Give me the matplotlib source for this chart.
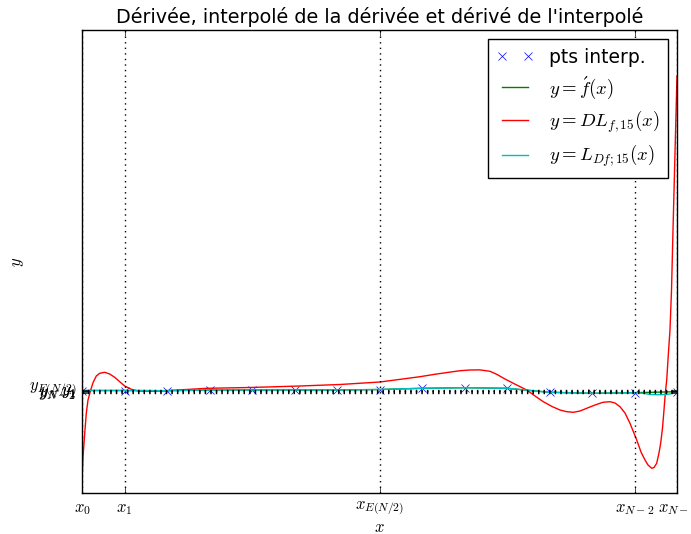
import matplotlib
matplotlib.use('Agg')
import matplotlib.pyplot as plt

plt.style.use('classic')

# noeuds d'interpolation (indices 0..14) et valeurs lues
x_nodes = list(range(15))
y_nodes = [0.0, 0.0, -0.02, 0.05, 0.05, 0.05, 0.05, 0.10, 0.22, 0.28,
           0.22, -0.18, -0.28, -0.22, -0.12]

# f'(x) (quasi confondue avec les points)
x_df = x_nodes
y_df = y_nodes

# L_{Df,15} : petite descente entre x_13 et x_14
x_ldf = list(range(14)) + [13.24, 13.365, 13.52, 13.647, 13.835, 13.95, 14.0]
y_ldf = y_nodes[:14] + [-0.30, -0.40, -0.42, -0.42, -0.35, -0.18, -0.12]

# DL_{f,15}
x_dl = [0.0, 0.024, 0.064, 0.101, 0.141, 0.205, 0.259, 0.336, 0.416, 0.534,
        0.652, 0.769, 0.887, 1.005, 1.160, 1.318, 1.6, 1.976, 2.934, 3.953,
        5.129, 6.071, 7.012, 7.953, 8.3, 8.659, 8.9, 9.129, 9.365, 9.6, 9.758,
        9.953, 10.148, 10.464, 10.659, 10.854, 11.059, 11.247, 11.405, 11.56,
        11.718, 11.875, 12.071, 12.259, 12.424, 12.541, 12.659, 12.776, 12.894,
        13.052, 13.153, 13.247, 13.318, 13.405, 13.459, 13.522, 13.576, 13.616,
        13.659, 13.694, 13.725, 13.758, 13.795, 13.835, 13.871, 13.906, 13.953,
        14.0]
y_dl = [-9.05, -6.62, -4.28, -2.28, -0.95, 0.05, 0.78, 1.45, 1.72, 1.82,
        1.65, 1.32, 0.88, 0.45, 0.12, -0.05, -0.07, -0.02, 0.22, 0.30,
        0.45, 0.60, 0.85, 1.38, 1.62, 1.84, 1.98, 2.05, 2.06, 1.92, 1.62,
        1.15, 0.72, 0.05, -0.55, -1.12, -1.60, -1.95, -2.12, -2.18,
        -2.05, -1.78, -1.45, -1.18, -1.12, -1.25, -1.62, -2.25, -3.28,
        -4.95, -6.15, -6.95, -7.45, -7.78, -7.70, -7.28, -6.25, -5.28,
        -3.75, -1.95, -0.25, 1.05, 3.55, 6.05, 10.05, 16.05, 23.75, 31.45]

# repères affichés
tick_idx = [0, 1, 7, 13, 14]
xtick_labels = [r'$x_0$', r'$x_1$', r'$x_{E(N/2)}$', r'$x_{N-2}$', r'$x_{N-1}$']
ytick_labels = [r'$y_0$', r'$y_1$', r'$y_{E(N/2)}$', r'$y_{N-2}$', r'$y_{N-1}$']

fig = plt.figure(figsize=(6.91, 5.34), dpi=100, facecolor='white')
ax = fig.add_axes([82/691, 1 - 493/534, 595/691, 463/534])

ax.plot(x_nodes, y_nodes, 'bx', markersize=6, label='pts interp.')
ax.plot(x_df, y_df, 'g', label=r"$y=\acute{f}(x)$")
ax.plot(x_dl, y_dl, 'r', label=r'$y=DL_{f,15}(x)$')
ax.plot(x_ldf, y_ldf, 'c', label=r'$y=L_{Df;15}(x)$')

xt = [x_nodes[i] for i in tick_idx]
yt = [y_nodes[i] for i in tick_idx]
for xv in xt:
    ax.axvline(xv, color='k', linestyle=':')
for yv in yt:
    ax.hlines(yv, x_nodes[0], x_nodes[-1], color='k', linestyle=':')

ax.set_xlim(0, 14)
ax.set_ylim(-10.25, 36.05)
ax.set_xticks(xt)
ax.set_xticklabels(xtick_labels, fontsize=12)
ax.set_yticks(yt)
ax.set_yticklabels(ytick_labels, fontsize=12)

ax.set_title("Dérivée, interpolé de la dérivée et dérivé de l'interpolé", fontsize=13.8)
ax.set_xlabel(r'$x$', fontsize=12, labelpad=1)
ax.set_ylabel(r'$y$', fontsize=12, labelpad=2)
ax.legend(loc='upper right', fontsize=13.5, numpoints=2, handlelength=2.0,
          handletextpad=0.8, labelspacing=0.42, borderpad=0.45)

fig.savefig('out.png', dpi=100, facecolor='white')
